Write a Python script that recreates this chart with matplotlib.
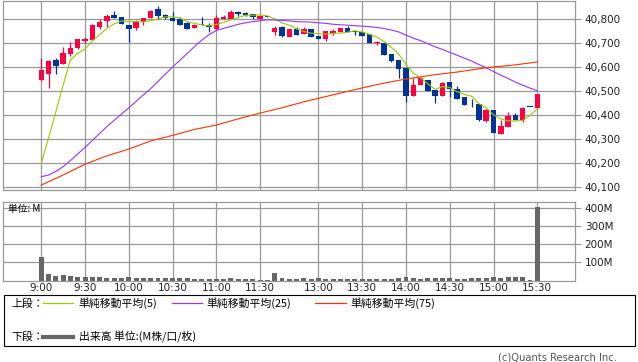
import matplotlib
matplotlib.use("Agg")
import matplotlib.pyplot as plt
from matplotlib.patches import Rectangle
import numpy as np

# ---------- data (5-minute bars) ----------
open_ = [40546, 40572, 40629, 40614, 40653, 40680, 40710, 40714, 40768, 40790,
         40818, 40808, 40776, 40764, 40786, 40805, 40842, 40817, 40804, 40800,
         40783, 40764, 40779, 40777, 40758, 40801, 40800, 40829, 40824, 40821,
         40800, 40813, 40746, 40767, 40725, 40758, 40739, 40758, 40729, 40717,
         40742, 40746, 40762, 40750, 40746, 40738, 40699, 40700, 40654, 40629,
         40596, 40479, 40525, 40546, 40504, 40479, 40537, 40508, 40475, 40442,
         40446, 40375, 40421, 40321, 40350, 40400, 40379, 40434, 40429]
high_ = [40637, 40628, 40637, 40685, 40704, 40717, 40725, 40779, 40799, 40821,
         40833, 40808, 40776, 40796, 40804, 40838, 40854, 40821, 40829, 40808,
         40787, 40779, 40808, 40783, 40817, 40817, 40836, 40833, 40829, 40821,
         40814, 40814, 40771, 40771, 40758, 40767, 40767, 40758, 40729, 40750,
         40758, 40762, 40771, 40750, 40746, 40738, 40710, 40700, 40654, 40629,
         40596, 40554, 40558, 40546, 40504, 40537, 40537, 40521, 40475, 40467,
         40446, 40425, 40421, 40379, 40413, 40408, 40433, 40434, 40488]
low_ = [40542, 40514, 40571, 40614, 40646, 40674, 40699, 40714, 40757, 40768,
        40805, 40780, 40704, 40754, 40776, 40805, 40800, 40799, 40793, 40776,
        40757, 40764, 40775, 40747, 40754, 40801, 40800, 40812, 40812, 40800,
        40800, 40808, 40733, 40725, 40725, 40735, 40739, 40726, 40717, 40708,
        40733, 40746, 40746, 40733, 40729, 40700, 40692, 40650, 40621, 40554,
        40454, 40479, 40525, 40500, 40450, 40479, 40475, 40467, 40442, 40433,
        40375, 40371, 40325, 40321, 40350, 40379, 40371, 40433, 40429]
close_ = [40588, 40625, 40605, 40660, 40678, 40717, 40717, 40775, 40787, 40814,
          40805, 40780, 40760, 40789, 40804, 40833, 40814, 40803, 40793, 40776,
          40760, 40776, 40775, 40768, 40804, 40808, 40829, 40822, 40815, 40807,
          40814, 40809, 40762, 40729, 40758, 40735, 40758, 40726, 40717, 40750,
          40750, 40762, 40746, 40745, 40729, 40700, 40704, 40650, 40625, 40592,
          40479, 40525, 40554, 40500, 40479, 40533, 40508, 40467, 40442, 40440,
          40379, 40421, 40325, 40354, 40396, 40379, 40429, 40433, 40488]

# volume in millions
volume = [133, 37, 26, 32, 26, 20, 20, 20, 20, 15, 15, 15, 20, 15, 15, 15, 15, 15,
          15, 15, 15, 9, 9, 9, 9, 9, 15, 9, 9, 9, 4, 1, 43, 15, 6, 6, 15, 6, 15,
          8, 8, 8, 8, 8, 8, 8, 9, 6, 6, 14, 19, 12, 9, 12, 12, 12, 12, 7, 7, 12,
          12, 12, 17, 12, 17, 17, 22, 2, 405]

ma5 = [40199, 40305, 40415, 40525, 40631, 40657, 40675, 40709, 40735, 40762,
       40780, 40792, 40789, 40790, 40788, 40793, 40800, 40809, 40809, 40804,
       40789, 40782, 40776, 40771, 40777, 40786, 40797, 40806, 40816, 40816,
       40817, 40813, 40801, 40784, 40774, 40759, 40748, 40741, 40739, 40737,
       40740, 40741, 40745, 40751, 40746, 40736, 40725, 40706, 40682, 40654,
       40610, 40574, 40555, 40530, 40507, 40518, 40515, 40497, 40486, 40478,
       40447, 40430, 40401, 40384, 40375, 40375, 40377, 40398, 40425]
ma25 = [40143, 40150, 40165, 40185, 40210, 40238, 40265, 40294, 40323, 40352,
        40378, 40404, 40430, 40457, 40484, 40510, 40540, 40570, 40600, 40628,
        40656, 40685, 40712, 40735, 40752, 40761, 40769, 40778, 40784, 40789,
        40793, 40797, 40796, 40794, 40792, 40789, 40788, 40787, 40784, 40782,
        40778, 40776, 40774, 40772, 40770, 40768, 40765, 40760, 40754, 40746,
        40733, 40720, 40710, 40697, 40684, 40673, 40661, 40649, 40637, 40625,
        40610, 40597, 40581, 40566, 40552, 40537, 40524, 40512, 40501]
ma75_bar = [0, 3, 6, 9, 12, 15, 18, 21, 24, 27, 30, 33, 36, 40, 44, 47, 50, 54,
            57, 61, 65, 68]
ma75 = [40108, 40150, 40195, 40230, 40258, 40292, 40315, 40340, 40358, 40384,
        40408, 40430, 40455, 40484, 40513, 40533, 40550, 40568, 40579, 40597,
        40609, 40621]

tick_bars = [0, 6, 12, 18, 24, 30, 38, 44, 50, 56, 62, 68]
tick_labels = ["9:00", "9:30", "10:00", "10:30", "11:00", "11:30",
               "13:00", "13:30", "14:00", "14:30", "15:00", "15:30"]
price_ticks = [40100, 40200, 40300, 40400, 40500, 40600, 40700, 40800]
vol_ticks = [100, 200, 300, 400]

# ---------- style ----------
RED = "#FF0040"
BLUE = "#003399"
C_MA5 = "#99CC00"
C_MA25 = "#9933FF"
C_MA75 = "#FF3300"
GRID = "#999999"
VOLC = "#666666"
JP = ["Noto Sans CJK JP", "DejaVu Sans"]

W, H = 638, 362


def box(x0, y0, x1, y1):
    # pixel box (top-left origin) -> figure fraction rect
    return [x0 / W, 1 - y1 / H, (x1 - x0) / W, (y1 - y0) / H]


fig = plt.figure(figsize=(W / 100, H / 100), dpi=100)
ax = fig.add_axes(box(3, 1, 575, 190))
axv = fig.add_axes(box(3, 201.7, 575, 280.5))

XLIM = (-5.25, 73.17)

for a in (ax, axv):
    a.set_xlim(*XLIM)
    a.set_axisbelow(True)
    a.grid(True, color=GRID, lw=0.9)
    for s in a.spines.values():
        s.set_color(GRID)
        s.set_linewidth(0.9)
    a.yaxis.tick_right()
    a.set_xticks(tick_bars)
    a.tick_params(axis="y", direction="out", length=4, width=0.8, color=GRID,
                  labelsize=7.5, pad=3, labelcolor="#222222")
    a.tick_params(axis="x", length=0, labelsize=7.5, pad=2, labelcolor="#222222")

# ---------- candles ----------
o = np.array(open_)
c = np.array(close_)
idx = np.arange(len(c))
cols = np.where(c > o, RED, BLUE)
ax.vlines(idx, low_, high_, colors=cols, lw=0.9, zorder=2)
body = np.maximum(np.abs(c - o), 3)
ax.bar(idx, body, bottom=np.minimum(o, c), width=0.75, color=cols, lw=0, zorder=2)

ax.plot(idx, ma5, color=C_MA5, lw=0.8, zorder=3)
ax.plot(idx, ma25, color=C_MA25, lw=0.8, zorder=3)
ax.plot(ma75_bar, ma75, color=C_MA75, lw=0.8, zorder=3)

ax.set_ylim(40087.5, 40875)
ax.set_yticks(price_ticks)
ax.set_yticklabels([f"{p:,}" for p in price_ticks])
ax.set_xticklabels([])

# ---------- volume ----------
axv.bar(idx, volume, width=0.68, color=VOLC, lw=0, zorder=2)
axv.set_ylim(0, 437)
axv.set_yticks(vol_ticks)
axv.set_yticklabels([f"{v}M" for v in vol_ticks])
axv.set_xticklabels(tick_labels)

# ---------- overlay: labels, legend box, copyright ----------
ov = fig.add_axes([0, 0, 1, 1], zorder=10)
ov.set_xlim(0, W)
ov.set_ylim(H, 0)
ov.axis("off")

ov.text(8, 209, "単位: M", family=JP, fontsize=7, va="center", ha="left")

ov.add_patch(Rectangle((3.5, 295), 631.5, 51, fill=False, ec="black", lw=0.8))
ov.text(11, 303.3, "上段：", family=JP, fontsize=7.8, va="center")
ov.plot([43.3, 72.7], [303.3, 303.3], color=C_MA5, lw=0.9)
ov.text(78.5, 303.3, "単純移動平均(5)", family=JP, fontsize=7.8, va="center")
ov.plot([171.7, 201.7], [303.3, 303.3], color=C_MA25, lw=0.9)
ov.text(206.5, 303.3, "単純移動平均(25)", family=JP, fontsize=7.8, va="center")
ov.plot([315, 345.7], [303.3, 303.3], color=C_MA75, lw=0.9)
ov.text(350, 303.3, "単純移動平均(75)", family=JP, fontsize=7.8, va="center")

ov.text(11, 336.7, "下段：", family=JP, fontsize=7.8, va="center")
ov.plot([43.3, 72.7], [336.7, 336.7], color=VOLC, lw=3)
ov.text(79, 336.7, "出来高 単位:(M株/口/枚)", family=JP, fontsize=7.8, va="center")

ov.text(617, 357.5, "(c)Quants Research Inc.", fontsize=7.2, color="#555555",
        ha="right", va="center")

fig.savefig("out.png", dpi=100)
